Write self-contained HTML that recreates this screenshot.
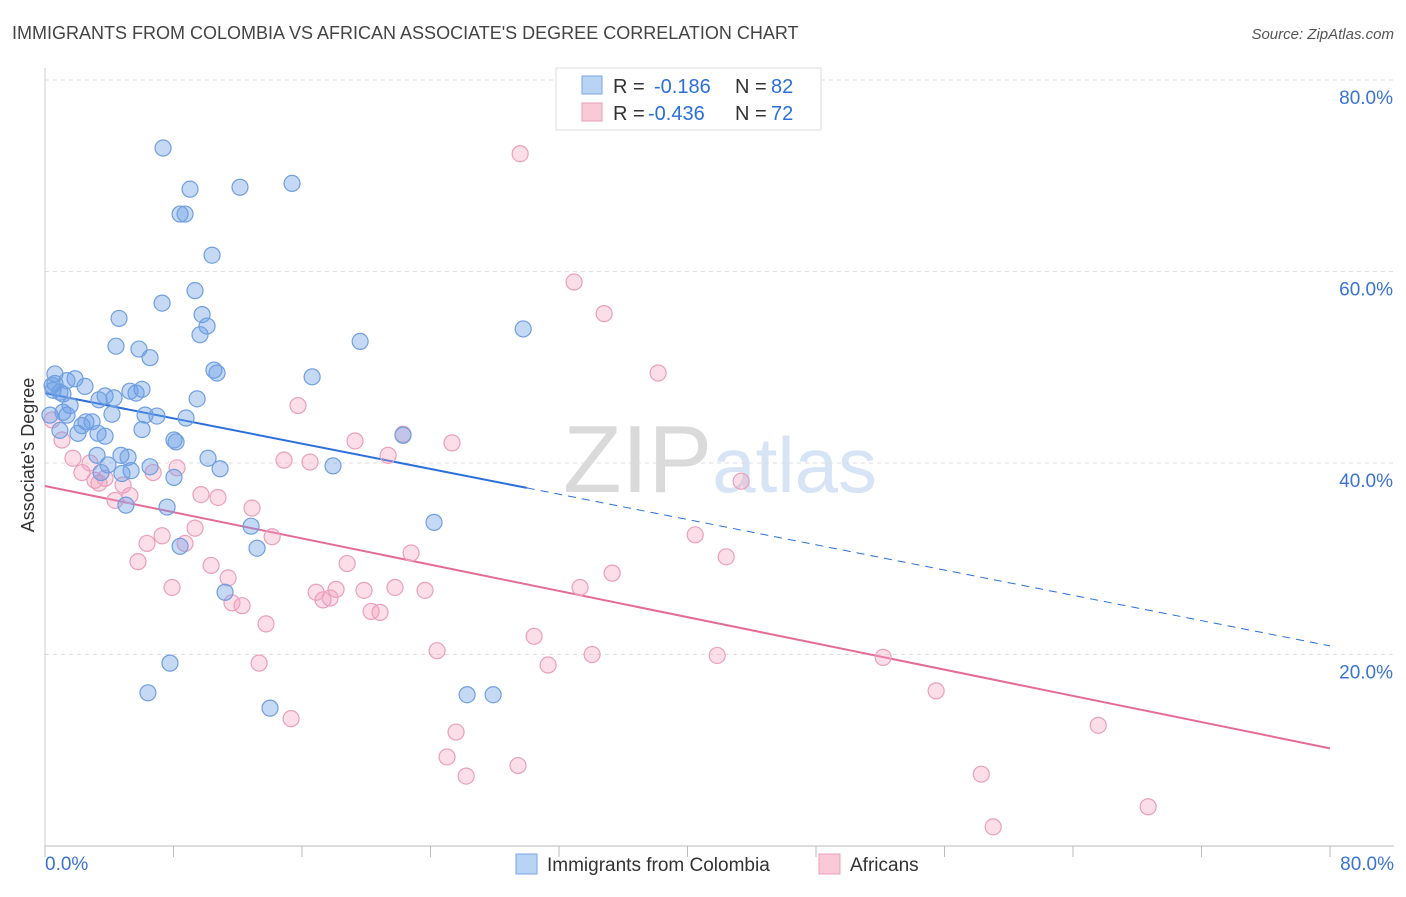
<!DOCTYPE html>
<html><head><meta charset="utf-8"><style>
body{margin:0;background:#fff;font-family:"Liberation Sans",sans-serif;}
svg text{font-family:"Liberation Sans",sans-serif;}
</style></head><body>
<svg id="chart" width="1406" height="892" viewBox="0 0 1406 892" xmlns="http://www.w3.org/2000/svg">
<text x="12" y="39" font-size="18" fill="#444">IMMIGRANTS FROM COLOMBIA VS AFRICAN ASSOCIATE'S DEGREE CORRELATION CHART</text>
<text x="1394" y="39" font-size="15" fill="#555" text-anchor="end" font-style="italic">Source: ZipAtlas.com</text>
<text x="720" y="492" font-size="96" fill="#e4e4e4" text-anchor="middle" font-family="Liberation Serif"><tspan fill="#dadada">ZIP</tspan><tspan fill="#d6e4f5" font-family="Liberation Sans" font-size="78">atlas</tspan></text>
<g id="grid"></g>
<g id="axes"></g>
<g id="lines"></g>
<g id="pts"></g>
<text transform="translate(34,455) rotate(-90)" font-size="18" fill="#333" text-anchor="middle">Associate's Degree</text>
<g>
<rect x="556" y="68" width="265" height="62" fill="#fff" stroke="#ddd"/>
<rect x="582" y="76" width="20" height="18" fill="#b9d3f5" stroke="#7aa6e4"/>
<text x="613" y="93" font-size="20" fill="#333">R =</text>
<text x="654" y="93" font-size="20" fill="#2a6fdb">-0.186</text>
<text x="735" y="93" font-size="20" fill="#333">N =</text>
<text x="771" y="93" font-size="20" fill="#2a6fdb">82</text>
<rect x="582" y="103" width="20" height="18" fill="#f9c9d8" stroke="#eba0ba"/>
<text x="613" y="120" font-size="20" fill="#333">R =</text>
<text x="648" y="120" font-size="20" fill="#2a6fdb">-0.436</text>
<text x="735" y="120" font-size="20" fill="#333">N =</text>
<text x="771" y="120" font-size="20" fill="#2a6fdb">72</text>
</g>
<g>
<rect x="516" y="854" width="21" height="20" fill="#b9d3f5" stroke="#7aa6e4"/>
<text x="547" y="871" font-size="19" fill="#333">Immigrants from Colombia</text>
<rect x="819" y="854" width="21" height="20" fill="#f9c9d8" stroke="#eba0ba"/>
<text x="850" y="871" font-size="19" fill="#333">Africans</text>
</g>
</svg>
<script>
const yTicks=[20,40,60,80];
const yTickLabels=["20.0%","40.0%","60.0%","80.0%"];
const xTickLabels=["0.0%","80.0%"];
const blueX=[7.35,9.03,8.41,8.72,12.14,15.38,10.40,9.34,7.29,4.61,9.78,10.09,9.65,4.42,5.85,6.54,19.62,29.77,10.52,10.71,16.63,0.62,0.62,1.87,1.37,2.49,0.50,0.93,1.12,3.74,4.30,5.29,5.67,6.04,3.36,9.47,1.56,1.12,4.17,1.37,6.23,6.97,8.78,2.55,2.93,2.30,3.30,2.05,3.74,6.04,8.03,8.16,22.29,3.24,4.73,5.17,10.15,3.92,6.54,5.36,3.49,10.90,17.93,4.79,8.03,5.04,7.60,12.83,24.22,8.41,13.20,11.21,7.78,6.41,26.28,27.90,14.01,0.31,0.44,0.93];
const blueY=[72.9,68.6,66.0,66.0,68.8,69.2,61.7,58.0,56.7,55.1,55.5,54.3,53.4,52.2,51.9,51.0,52.7,54.0,49.7,49.4,49.0,49.3,48.3,48.8,48.6,48.0,47.6,47.4,47.2,47.0,46.8,47.5,47.3,47.7,46.6,46.7,46.0,45.3,45.1,45.0,45.0,44.9,44.7,44.3,44.3,43.9,43.1,43.1,42.8,43.5,42.4,42.2,42.9,40.8,40.8,40.6,40.5,39.8,39.6,39.2,39.0,39.4,39.7,38.9,38.5,35.6,35.4,33.4,33.8,31.3,31.1,26.5,19.1,16.0,15.8,15.8,14.4,45.0,48.1,43.4];
const pinkX=[29.58,32.94,34.81,38.17,15.75,43.34,22.29,25.34,19.30,21.36,0.44,1.06,1.74,2.80,2.30,3.11,4.86,3.36,5.29,4.36,8.22,6.73,9.71,10.77,12.89,9.34,6.35,8.72,7.29,5.79,14.14,18.81,22.79,40.48,42.41,10.34,11.40,35.31,33.31,7.91,11.64,12.27,16.88,17.75,17.31,18.12,19.86,21.79,23.66,20.30,20.86,13.76,30.45,24.41,34.06,41.85,31.32,52.18,13.33,15.32,55.48,65.57,25.59,25.03,29.45,26.22,58.29,68.68,59.03,14.88,16.50,3.74];
const pinkY=[72.3,58.9,55.6,49.4,46.0,38.1,43.0,42.1,42.3,40.8,44.5,42.4,40.5,40.0,39.0,38.2,37.7,37.9,36.6,36.1,39.5,39.0,36.7,36.4,35.3,33.2,31.6,31.6,32.4,29.7,32.3,29.5,30.6,32.5,30.2,29.3,28.0,28.5,27.0,27.0,25.4,25.1,26.5,25.9,25.7,26.8,26.7,27.0,26.7,24.5,24.4,23.2,21.9,20.4,20.0,19.9,18.9,19.7,19.1,13.3,16.2,12.6,11.9,9.3,8.4,7.3,7.5,4.1,2.0,40.3,40.1,38.4];
const blueTrend=[47.3,20.9];const blueSolidEnd=30.0;
const pinkTrend=[37.6,10.2];
const NS="http://www.w3.org/2000/svg";
const sx=v=>45+v*(1285/80);
const sy=v=>846-v*(766/80);
function mk(parent,tag,attrs){const e=document.createElementNS(NS,tag);for(const k in attrs)e.setAttribute(k,attrs[k]);document.getElementById(parent).appendChild(e);return e;}
yTicks.forEach((t,i)=>{
 const g=mk('grid','line',{x1:45,x2:1394,y1:sy(t),y2:sy(t),stroke:'#ddd','stroke-dasharray':'4,4'});
 
 
 const l=mk('axes','text',{x:1393,y:sy(t)+24,'font-size':19,fill:'#3a73d6','text-anchor':'end'});
 l.textContent=yTickLabels[i];
 
 
});
const ax=mk('axes','line',{x1:45,x2:1394,y1:846,y2:846,stroke:'#bbb'});


const ay=mk('axes','line',{x1:45,x2:45,y1:68,y2:846,stroke:'#ccc'});


for(let i=0;i<=10;i++){const t=mk('axes','line',{x1:sx(i*8),x2:sx(i*8),y1:846,y2:857,stroke:'#bbb'});
 
 }
const xl0=mk('axes','text',{x:45,y:870,'font-size':19,fill:'#3a73d6'});xl0.textContent=xTickLabels[0];


const xl1=mk('axes','text',{x:1394,y:870,'font-size':19,fill:'#3a73d6','text-anchor':'end'});xl1.textContent=xTickLabels[1];


const bv=x=>blueTrend[0]+(blueTrend[1]-blueTrend[0])*x/80;
const pv=x=>pinkTrend[0]+(pinkTrend[1]-pinkTrend[0])*x/80;
pinkX.forEach((x,i)=>{const c=mk('pts','circle',{cx:sx(x),cy:sy(pinkY[i]),r:8,fill:'rgba(244,160,190,0.35)',stroke:'#eb9fbb','stroke-width':1.2});
 
 });
blueX.forEach((x,i)=>{const c=mk('pts','circle',{cx:sx(x),cy:sy(blueY[i]),r:8,fill:'rgba(110,160,230,0.4)',stroke:'#6f9fe0','stroke-width':1.2});
 
 });
const b1=mk('lines','line',{x1:sx(0),y1:sy(bv(0)),x2:sx(blueSolidEnd),y2:sy(bv(blueSolidEnd)),stroke:'#2a6fdb','stroke-width':2});


const b2=mk('lines','line',{x1:sx(blueSolidEnd),y1:sy(bv(blueSolidEnd)),x2:sx(80),y2:sy(bv(80)),stroke:'#2a6fdb','stroke-width':1,'stroke-dasharray':'8,6'});


const p1=mk('lines','line',{x1:sx(0),y1:sy(pv(0)),x2:sx(80),y2:sy(pv(80)),stroke:'#e56b97','stroke-width':2});


</script>
</body></html>
